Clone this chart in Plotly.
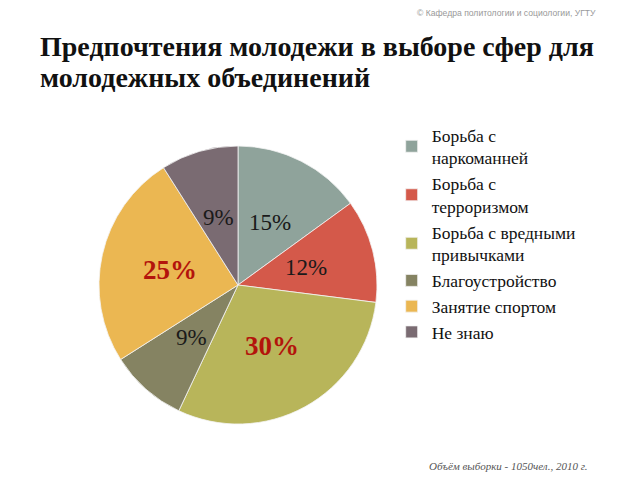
import math
import plotly.graph_objects as go

categories = ["Борьба с<br>наркоманней", "Борьба с<br>терроризмом", "Борьба с вредными<br>привычками",
              "Благоустройство", "Занятие спортом", "Не знаю"]
values = [15, 12, 30, 9, 25, 9]
title_lines = ["Предпочтения молодежи в выборе сфер для", "молодежных объединений"]

colors = ["#8fa39b", "#d4594a", "#b8b55a", "#858362", "#ebb752", "#7a6b72"]
emphasis = [False, False, True, False, True, False]

W, H = 640, 480
cx_px, cy_px, R_px = 238, 285, 139
label_r = 70

fig = go.Figure(go.Pie(
    labels=categories, values=values,
    textinfo="none",
    sort=False, direction="clockwise", rotation=0,
    marker=dict(colors=colors, line=dict(color="#f4f4f4", width=0.8)),
    domain=dict(x=[(cx_px - R_px) / W, (cx_px + R_px) / W],
                y=[(H - cy_px - R_px) / H, (H - cy_px + R_px) / H]),
    hoverinfo="label+percent",
))

annotations = []
total = sum(values)
cum = 0
for v, e in zip(values, emphasis):
    mid = math.radians(90 - 360 * (cum + v / 2) / total)
    cum += v
    annotations.append(dict(
        text=f"<b>{v}%</b>" if e else f"{v}%",
        x=(cx_px + label_r * math.cos(mid)) / W,
        y=(H - cy_px + label_r * math.sin(mid)) / H,
        xref="paper", yref="paper", showarrow=False,
        xanchor="center", yanchor="middle",
        font=dict(family="Liberation Serif", size=27 if e else 23,
                  color="#b3140c" if e else "#1a1a1a"),
    ))

for i, line in enumerate(title_lines):
    annotations.append(dict(
        text=f"<b>{line}</b>", x=38 / W, y=1 - (47 + 31 * i) / H,
        xref="paper", yref="paper", xanchor="left", yanchor="middle",
        showarrow=False, font=dict(family="Liberation Serif", size=28, color="#111")))

annotations += [
    dict(text="© Кафедра политологии и социологии, УГТУ",
         x=598 / W, y=1 - 13 / H, xref="paper", yref="paper", xanchor="right", yanchor="middle",
         showarrow=False, font=dict(family="Liberation Sans", size=8.6, color="#999")),
    dict(text="<i>Объём выборки - 1050чел., 2010 г.</i>",
         x=590 / W, y=1 - 466 / H, xref="paper", yref="paper", xanchor="right", yanchor="middle",
         showarrow=False, font=dict(family="Liberation Serif", size=11, color="#555")),
]

fig.update_layout(
    width=W, height=H, margin=dict(l=0, r=0, t=0, b=0),
    paper_bgcolor="white", plot_bgcolor="white",
    showlegend=True,
    legend=dict(x=0.612, y=1 - 117 / H, xanchor="left", yanchor="top",
                font=dict(family="Liberation Serif", size=17.5, color="#111"),
                itemwidth=30, tracegroupgap=0),
    font=dict(family="Liberation Serif"),
    annotations=annotations,
)

fig.write_html("out.html")
